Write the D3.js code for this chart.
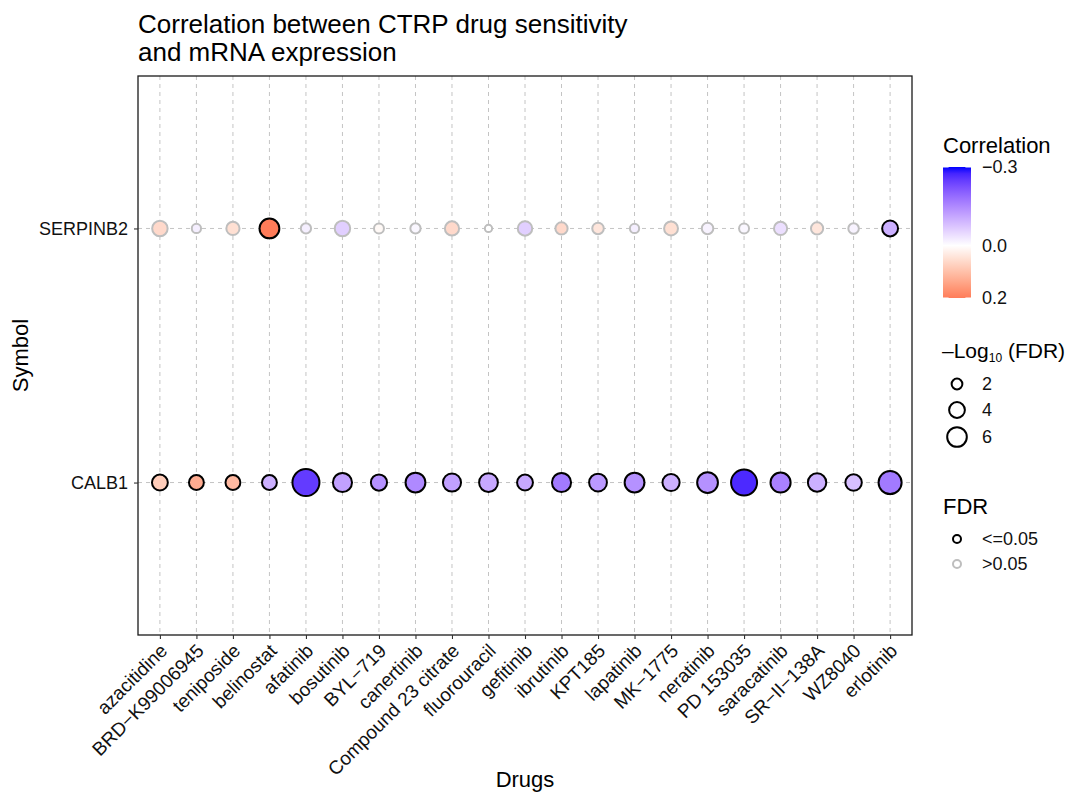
<!DOCTYPE html>
<html>
<head>
<meta charset="utf-8">
<script src="https://cdn.jsdelivr.net/npm/d3@7"></script>
<style>
  html, body { margin: 0; padding: 0; background: #fff; }
  svg { display: block; font-family: "Liberation Sans", Arial, sans-serif; }
</style>
</head>
<body>
<svg id="chart" width="1069" height="793"></svg>
<script>
// Drugs on the x axis, in plotting order
const drugs = ["azacitidine", "BRD-K99006945", "teniposide", "belinostat", "afatinib",
  "bosutinib", "BYL-719", "canertinib", "Compound 23 citrate", "fluorouracil", "gefitinib",
  "ibrutinib", "KPT185", "lapatinib", "MK-1775", "neratinib", "PD 153035", "saracatinib",
  "SR-II-138A", "WZ8040", "erlotinib"];
// Axis labels use the R-style minus sign for hyphens
const drugLabels = drugs.map(d => d.replace(/-/g, "\u2212"));

const symbols = ["SERPINB2", "CALB1"];

// Spearman correlation per gene (one value per drug)
const corSERPINB2 = [0.06, -0.02, 0.05, 0.20, -0.02, -0.06, 0.01, -0.01, 0.06, 0.00, -0.06,
  0.06, 0.04, -0.02, 0.05, -0.015, -0.01, -0.04, 0.04, -0.015, -0.10];
const corCALB1 = [0.08, 0.13, 0.11, -0.10, -0.25, -0.12, -0.14, -0.15, -0.12, -0.11, -0.11,
  -0.17, -0.13, -0.14, -0.10, -0.14, -0.27, -0.16, -0.10, -0.08, -0.17];

// -log10(FDR) per gene
const fdrSERPINB2 = [3.86, 1.54, 2.89, 6.11, 1.84, 3.86, 1.75, 1.84, 3.30, 1.02, 3.42,
  2.52, 2.27, 1.54, 3.17, 2.27, 1.75, 2.89, 2.52, 1.93, 4.05];
const fdrCALB1 = [4.05, 3.60, 3.60, 3.60, 10.96, 5.72, 4.19, 6.11, 5.18, 5.55, 4.05,
  5.72, 5.02, 6.11, 4.67, 6.69, 10.21, 6.28, 5.34, 4.33, 8.13];

// FDR significance (true: FDR <= 0.05)
const sigSERPINB2 = [false, false, false, true, false, false, false, false, false, false, false,
  false, false, false, false, false, false, false, false, false, true];
const sigCALB1 = drugs.map(() => true);

// Legend breaks
const corBreaks = [-0.3, 0.0, 0.2];
const corBreakLabels = ["\u22120.3", "0.0", "0.2"];
const sizeBreaks = [2, 4, 6];
const fdrLevels = ["<=0.05", ">0.05"];

const rows = [
  { symbol: "SERPINB2", cor: corSERPINB2, fdr: fdrSERPINB2, sig: sigSERPINB2 },
  { symbol: "CALB1", cor: corCALB1, fdr: fdrCALB1, sig: sigCALB1 }
];
const points = [];
rows.forEach(r => drugs.forEach((d, i) => points.push({
  drug: d, symbol: r.symbol, cor: r.cor[i], logfdr: r.fdr[i], sig: r.sig[i]
})));

const svg = d3.select("#chart");
const panel = { left: 138, right: 912, top: 76, bottom: 635 };

const x = d3.scalePoint().domain(drugs).range([panel.left, panel.right]).padding(0.6);
const y = d3.scalePoint().domain(symbols).range([panel.top, panel.bottom]).padding(0.6);

const color = d3.scaleLinear()
  .domain([-0.3, 0, 0.3])
  .range(["#0000FF", "#FFFFFF", "#FF0000"])
  .interpolate(d3.interpolateLab);

const size = d3.scalePow().exponent(0.5).domain([1, 11]).range([3.6, 13.53]);

const strokeFor = s => s ? "#000000" : "#BEBEBE";

// Title
const title = svg.append("text").attr("x", 138).attr("y", 33)
  .attr("font-size", 26).attr("fill", "#000");
title.append("tspan").attr("x", 138).text("Correlation between CTRP drug sensitivity");
title.append("tspan").attr("x", 138).attr("dy", 28).text("and mRNA expression");

// Grid lines
const grid = svg.append("g").attr("stroke", "#C4C4C4").attr("stroke-width", 1)
  .attr("stroke-dasharray", "4,4");
grid.selectAll("line.v").data(drugs).join("line").attr("class", "v")
  .attr("x1", d => x(d)).attr("x2", d => x(d))
  .attr("y1", panel.top).attr("y2", panel.bottom);
grid.selectAll("line.h").data(symbols).join("line").attr("class", "h")
  .attr("y1", d => y(d)).attr("y2", d => y(d))
  .attr("x1", panel.left).attr("x2", panel.right);

// Points
svg.append("g").selectAll("circle").data(points).join("circle")
  .attr("cx", d => x(d.drug)).attr("cy", d => y(d.symbol))
  .attr("r", d => size(d.logfdr))
  .attr("fill", d => color(d.cor))
  .attr("stroke", d => strokeFor(d.sig))
  .attr("stroke-width", 2);

// Panel border
svg.append("rect").attr("x", panel.left).attr("y", panel.top)
  .attr("width", panel.right - panel.left).attr("height", panel.bottom - panel.top)
  .attr("fill", "none").attr("stroke", "#1A1A1A").attr("stroke-width", 1.3);

// X axis
const xAxis = svg.append("g").attr("transform", `translate(0,${panel.bottom})`)
  .call(d3.axisBottom(x).tickSize(4).tickSizeOuter(0).tickFormat((d, i) => drugLabels[i]));
xAxis.select(".domain").remove();
xAxis.selectAll(".tick line").attr("stroke", "#333").attr("stroke-width", 1.1);
xAxis.selectAll(".tick text")
  .attr("font-size", 19).attr("fill", "#111").attr("font-family", "Liberation Sans, Arial, sans-serif")
  .attr("text-anchor", "end").attr("y", 0).attr("dy", 0)
  .attr("transform", "translate(8,17) rotate(-45)");

// Y axis
const yAxis = svg.append("g").attr("transform", `translate(${panel.left},0)`)
  .call(d3.axisLeft(y).tickSize(4).tickSizeOuter(0));
yAxis.select(".domain").remove();
yAxis.selectAll(".tick line").attr("stroke", "#333").attr("stroke-width", 1.1);
yAxis.selectAll(".tick text")
  .attr("font-size", 18).attr("fill", "#111").attr("font-family", "Liberation Sans, Arial, sans-serif")
  .attr("x", -10).attr("dy", "0.35em");

// Axis titles
svg.append("text").attr("x", (panel.left + panel.right) / 2).attr("y", 787)
  .attr("text-anchor", "middle").attr("font-size", 22).text("Drugs");
svg.append("text").attr("transform", `translate(28,${(panel.top + panel.bottom) / 2}) rotate(-90)`)
  .attr("text-anchor", "middle").attr("font-size", 22).text("Symbol");

// Legend: correlation colour bar
const lg = svg.append("g");
const barX = 943, barW = 28;
const barY = d3.scaleLinear().domain([-0.3, 0.2]).range([167, 298]);
lg.append("text").attr("x", 943).attr("y", 153).attr("font-size", 22).text("Correlation");
const defs = svg.append("defs");
const grad = defs.append("linearGradient").attr("id", "corGrad")
  .attr("x1", 0).attr("y1", 0).attr("x2", 0).attr("y2", 1);
d3.range(0, 1.0001, 0.05).forEach(t => {
  grad.append("stop").attr("offset", t).attr("stop-color", color(barY.invert(167 + t * 131)));
});
lg.append("rect").attr("x", barX).attr("y", barY(-0.3)).attr("width", barW)
  .attr("height", barY(0.2) - barY(-0.3)).attr("fill", "url(#corGrad)");
corBreaks.forEach((b, i) => {
  const yy = barY(b);
  lg.append("line").attr("x1", barX).attr("x2", barX + barW / 5).attr("y1", yy).attr("y2", yy)
    .attr("stroke", "#fff").attr("stroke-width", 1);
  lg.append("line").attr("x1", barX + barW - barW / 5).attr("x2", barX + barW).attr("y1", yy).attr("y2", yy)
    .attr("stroke", "#fff").attr("stroke-width", 1);
  lg.append("text").attr("x", 982).attr("y", yy).attr("dy", "0.35em")
    .attr("font-size", 18).attr("fill", "#111").text(corBreakLabels[i]);
});

// Legend: -log10(FDR) sizes
const st = lg.append("text").attr("x", 942).attr("y", 358).attr("font-size", 21);
st.append("tspan").text("\u2013Log");
st.append("tspan").attr("font-size", 12).attr("dy", 4).text("10");
st.append("tspan").attr("dy", -4).text(" (FDR)");
const sizeKeyY = [384, 410, 437];
sizeBreaks.forEach((b, i) => {
  lg.append("circle").attr("cx", 957).attr("cy", sizeKeyY[i]).attr("r", size(b))
    .attr("fill", "none").attr("stroke", "#000").attr("stroke-width", 2);
  lg.append("text").attr("x", 982).attr("y", sizeKeyY[i]).attr("dy", "0.35em")
    .attr("font-size", 18).attr("fill", "#111").text(b);
});

// Legend: FDR significance
lg.append("text").attr("x", 943).attr("y", 514).attr("font-size", 22).text("FDR");
const fdrKeyY = [539, 564];
fdrLevels.forEach((lv, i) => {
  lg.append("circle").attr("cx", 957).attr("cy", fdrKeyY[i]).attr("r", 4)
    .attr("fill", "none").attr("stroke", strokeFor(i === 0)).attr("stroke-width", 2);
  lg.append("text").attr("x", 982).attr("y", fdrKeyY[i]).attr("dy", "0.35em")
    .attr("font-size", 18).attr("fill", "#111").text(lv);
});
</script>
</body>
</html>
